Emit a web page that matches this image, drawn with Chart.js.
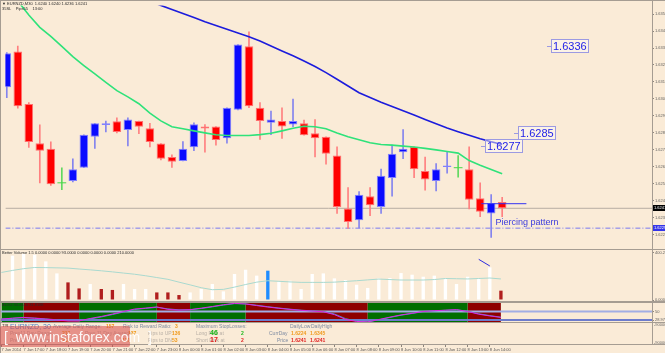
<!DOCTYPE html>
<html>
<head>
<meta charset="utf-8">
<title>EURNZD M30</title>
<script src="https://cdn.jsdelivr.net/npm/chart.js@4.4.1/dist/chart.umd.min.js"></script>
<style>
  html, body { margin: 0; padding: 0; background: #faebd7; }
  #page { position: relative; width: 665px; height: 353px; overflow: hidden; background: #faebd7;
          font-family: "Liberation Sans", Arial, sans-serif; }
  #page canvas { position: absolute; left: 0; }
  .t { position: absolute; white-space: nowrap; line-height: 1; font-size: 5px; color: #7f8ca2; }
  .n { color: #f09a1c; font-weight: bold; }
  .tiny { font-size: 4px; color: #2a2a2a; }
  .rule { position: absolute; left: 0; width: 665px; height: 1px; background: #a59c92; }
</style>
</head>
<body>
<div id="page">
  <canvas id="main" width="665" height="249" style="top:0"></canvas>
  <canvas id="vol" width="665" height="52" style="top:249px"></canvas>
  <canvas id="ind" width="665" height="22" style="top:301px"></canvas>
  <canvas id="time" width="665" height="10" style="top:343px"></canvas>

  <div class="rule" style="top:0"></div>
  <div class="rule" style="top:249px"></div>
  <div class="rule" style="top:301px;height:2px"></div>
  <div class="rule" style="top:322px"></div>
  <div class="rule" style="top:344px"></div>
  <div style="position:absolute;left:0;top:0;width:1px;height:353px;background:#a59c92"></div>
  <div style="position:absolute;left:652px;top:0;width:1px;height:345px;background:#a59c92"></div>

  <!-- header texts -->
  <div class="t tiny" style="left:2px;top:2px">&#9660; EURNZD,M30&nbsp; 1.6240 1.6240 1.6236 1.6241</div>
  <div class="t tiny" style="left:2px;top:7px">35SL&nbsp;&nbsp;&nbsp; Pips55&nbsp;&nbsp;&nbsp; 13:00</div>
  <div class="t tiny" style="left:2px;top:251px">Better Volume 1.5 0.0000 0.0000 93.0000 0.0000 0.0000 0.0000 210.0000</div>
  <div class="t tiny" style="left:2px;top:303px">ADX2 33.4415 31.8188</div>

  <!-- info panel -->
  <div class="t tiny" style="left:2px;top:324px">T!R</div>
  <div class="t" style="left:10px;top:323px;font-size:7px;color:#4f7fc4">EURNZD, 30</div>
  <div class="t" style="left:53px;top:324px">Average Daily Range:</div>
  <div class="t n" style="left:106px;top:324px">157</div>
  <div class="t" style="left:123px;top:324px">Risk to Reward Ratio:</div>
  <div class="t n" style="left:175px;top:324px">3</div>
  <div class="t" style="left:196px;top:324px">Maximum StopLosses:</div>
  <div class="t" style="left:290px;top:324px">DailyLow</div>
  <div class="t" style="left:311px;top:324px">DailyHigh</div>

  <div class="t" style="left:10px;top:331px;color:#b9b0a6">Prev11 Day Range:</div>
  <div class="t n" style="left:62px;top:331px">213</div>
  <div class="t" style="left:85px;top:331px;color:#b9b0a6">Prev 11 Day Average:</div>
  <div class="t n" style="left:128px;top:331px">137</div>
  <div class="t" style="left:148px;top:331px;color:#b9b0a6">Pips to UP:</div>
  <div class="t n" style="left:172px;top:331px">136</div>
  <div class="t" style="left:196px;top:331px;color:#b9b0a6">Long Risk at</div>
  <div class="t" style="left:210px;top:329px;font-size:7px;font-weight:bold;color:#19b819">46</div>
  <div class="t" style="left:241px;top:331px;font-weight:bold;color:#19b819">2</div>
  <div class="t" style="left:269px;top:331px">CurrDay</div>
  <div class="t n" style="left:291px;top:331px">1.6224</div>
  <div class="t n" style="left:310px;top:331px">1.6345</div>

  <div class="t" style="left:10px;top:338px;color:#b9b0a6">Prev22 Day Range:</div>
  <div class="t n" style="left:62px;top:338px">218</div>
  <div class="t n" style="left:122px;top:338px">130</div>
  <div class="t" style="left:148px;top:338px;color:#b9b0a6">Pips to DN:</div>
  <div class="t n" style="left:172px;top:338px">53</div>
  <div class="t" style="left:196px;top:338px;color:#b9b0a6">Short Risk at</div>
  <div class="t" style="left:210px;top:336px;font-size:7px;font-weight:bold;color:#e02020">17</div>
  <div class="t" style="left:241px;top:338px;font-weight:bold;color:#e02020">2</div>
  <div class="t" style="left:277px;top:338px">Price</div>
  <div class="t" style="left:291px;top:338px;font-weight:bold;color:#e02020">1.6241</div>
  <div class="t" style="left:310px;top:338px;font-weight:bold;color:#e02020">1.6241</div>

  <div class="t tiny" style="left:654px;top:323px;color:#6b6b6b">-900000</div>
  <div class="t tiny" style="left:654px;top:341px;color:#6b6b6b">-900000</div>

  <!-- watermark -->
  <div style="position:absolute;left:0;top:326px;width:130px;height:21px;background:rgba(214,72,72,0.55);border-radius:2px"></div>
  <div class="t" style="left:4px;top:330px;font-size:14px;color:rgba(255,255,255,0.92)">[&nbsp; www.instaforex.com &nbsp;]</div>
</div>

<script>
// ---- values (EURNZD, M30) ----
const timeTicks = ['7 Jun 2014', '7 Jun 17:00', '7 Jun 18:00', '7 Jun 19:00', '7 Jun 20:00', '7 Jun 21:00',
  '7 Jun 22:00', '7 Jun 23:00', '8 Jun 00:00', '8 Jun 01:00', '8 Jun 02:00', '8 Jun 03:00', '8 Jun 04:00',
  '8 Jun 05:00', '8 Jun 06:00', '8 Jun 07:00', '8 Jun 08:00', '8 Jun 09:00', '8 Jun 10:00', '8 Jun 11:00',
  '8 Jun 12:00', '8 Jun 13:00', '8 Jun 14:00'];
const timeTickAt = [0, 2, 4, 6, 8, 10, 12, 14, 16, 18, 20, 22, 24, 26, 28, 30, 32, 34, 36, 38, 40, 42, 44];

const priceTicks = [1.6355, 1.6345, 1.6335, 1.6325, 1.6315, 1.6305, 1.6295, 1.6285, 1.6275, 1.6265, 1.6255, 1.6245, 1.6235, 1.6225];

const opens  = [1.63119, 1.63329, 1.63020, 1.62789, 1.62757, 1.62556, 1.62566, 1.62645, 1.62827, 1.62897,
  1.62918, 1.62867, 1.62920, 1.62878, 1.62787, 1.62708, 1.62685, 1.62766, 1.62887, 1.62887,
  1.62819, 1.62986, 1.63361, 1.62998, 1.62910, 1.62920, 1.62899, 1.62907, 1.62848, 1.62827,
  1.62717, 1.62405, 1.62336, 1.62477, 1.62414, 1.62585, 1.62736, 1.62768, 1.62626, 1.62566,
  1.62649, 1.62645, 1.62636, 1.62465, 1.62376, 1.62443];
const highs  = [1.63323, 1.63361, 1.63029, 1.62897, 1.62797, 1.62645, 1.62698, 1.62839, 1.62907, 1.62920,
  1.62939, 1.62939, 1.62920, 1.62907, 1.62787, 1.62721, 1.62799, 1.62910, 1.62899, 1.62887,
  1.62998, 1.63370, 1.63446, 1.63029, 1.62978, 1.62998, 1.63049, 1.62925, 1.62929, 1.62827,
  1.62768, 1.62528, 1.62505, 1.62528, 1.62637, 1.62778, 1.62869, 1.62768, 1.62708, 1.62670,
  1.62736, 1.62717, 1.62768, 1.62556, 1.62486, 1.62471];
const lows   = [1.63058, 1.62995, 1.62765, 1.62556, 1.62540, 1.62515, 1.62562, 1.62645, 1.62759, 1.62856,
  1.62850, 1.62774, 1.62846, 1.62768, 1.62691, 1.62647, 1.62685, 1.62745, 1.62736, 1.62778,
  1.62789, 1.62986, 1.62999, 1.62812, 1.62840, 1.62818, 1.62887, 1.62836, 1.62708, 1.62666,
  1.62376, 1.62288, 1.62291, 1.62363, 1.62376, 1.62477, 1.62698, 1.62586, 1.62512, 1.62509,
  1.62613, 1.62589, 1.62403, 1.62357, 1.62234, 1.62357];
const closes = [1.63319, 1.63007, 1.62797, 1.62745, 1.62547, 1.62556, 1.62636, 1.62839, 1.62907, 1.62907,
  1.62856, 1.62929, 1.62886, 1.62797, 1.62698, 1.62680, 1.62757, 1.62901, 1.62876, 1.62808,
  1.62998, 1.63370, 1.63007, 1.62920, 1.62929, 1.62887, 1.62920, 1.62836, 1.62818, 1.62727,
  1.62414, 1.62325, 1.62486, 1.62424, 1.62598, 1.62727, 1.62757, 1.62636, 1.62575, 1.62636,
  1.62658, 1.62645, 1.62456, 1.62386, 1.62437, 1.62406];

// moving averages (green fast, blue slow)
const maFast = [1.63709, 1.63627, 1.63545, 1.63472, 1.63419, 1.63360, 1.63299, 1.63247, 1.63197, 1.63148,
  1.63099, 1.63062, 1.63022, 1.62966, 1.62921, 1.62886, 1.62874, 1.62862, 1.62850, 1.62839,
  1.62835, 1.62835, 1.62835, 1.62840, 1.62848, 1.62862, 1.62877, 1.62889, 1.62886, 1.62875,
  1.62850, 1.62827, 1.62810, 1.62792, 1.62782, 1.62778, 1.62772, 1.62767, 1.62759, 1.62750,
  1.62740, 1.62731, 1.62687, 1.62660, 1.62635, 1.62610];
const maSlow = [null, null, null, null, null, null, null, null, null, null,
  null, null, 1.63649, 1.63625, 1.63601, 1.63577, 1.63554, 1.63530, 1.63505, 1.63483,
  1.63461, 1.63439, 1.63417, 1.63391, 1.63362, 1.63333, 1.63304, 1.63273, 1.63241, 1.63205,
  1.63166, 1.63126, 1.63087, 1.63059, 1.63031, 1.63005, 1.62980, 1.62955, 1.62929, 1.62904,
  1.62879, 1.62857, 1.62836, 1.62816, 1.62798, 1.62782];

const supportLevel = 1.62289;
const pierceLevel = 1.62433;
const pierceFrom = 43.1, pierceTo = 47.2;
const levelTags = [1.6336, 1.6285, 1.6277];

// Better Volume
const volumes = [null, 375, 389, 383, 327, 225, 149, 98, 135, 93, 85, 135, 93, 93, 64, 64, 42, 64, 93, 135,
  73, 220, 256, 206, 248, 157, 163, 93, 220, 225, 183, 169, 129, 102, 183, 186, 228, 214, 197, 206,
  186, 135, 197, 186, 276, 79];
const volKinds = ['n', 'n', 'n', 'n', 'n', 'n', 'r', 'r', 'n', 'r', 'r', 'n', 'n', 'n', 'r', 'r', 'r', 'n', 'n', 'n',
  'n', 'n', 'n', 'n', 'b', 'n', 'n', 'n', 'n', 'n', 'n', 'n', 'n', 'n', 'n', 'n', 'n', 'n', 'n', 'n',
  'n', 'n', 'n', 'n', 'n', 'r'];
const volAvg = [233, 250, 265, 275, 274, 272, 270, 262, 255, 247, 238, 228, 218, 205, 190, 175, 151, 128, 104, 87,
  90, 109, 131, 151, 163, 158, 153, 149, 149, 149, 151, 157, 163, 170, 177, 173, 169, 169, 169, 173,
  182, 180, 178, 182, 186, 178];
const volTicks = [400.25, 0];
const divergeAt = [43, 44];
const divergeVol = [344, 288];

// ADX panel
const adxMain = [31.2, 33.6, 35.4, 33.3, 31.2, 28.9, 26.9, 26.9, 32.8, 37.7, 43.6, 49.7, 55.9, 58.2, 61.1, 55.1,
  53.3, 54.4, 58.0, 62.1, 66.5, 69.8, 68.3, 64.4, 60.8, 57.7, 54.9, 52.6, 51.0, 49.2, 42.3, 30.7, 25.6, 24.3,
  30.2, 36.1, 41.5, 45.6, 50.0, 51.8, 53.1, 54.4, 50.0, 43.3, 39.0, 35.4];
const adxSignal = [32.0, 33.0, 34.6, 33.8, 31.8, 29.6, 27.6, 27.2, 31.6, 36.5, 42.4, 48.6, 54.8, 57.6, 60.2, 56.3,
  54.0, 54.1, 57.2, 61.2, 65.6, 69.1, 68.6, 65.2, 61.6, 58.4, 55.6, 53.1, 51.4, 49.8, 43.8, 32.4, 26.4, 24.6,
  29.4, 35.3, 40.7, 45.0, 49.5, 51.4, 52.8, 54.0, 50.6, 44.2, 39.8, 36.0];
const trendZones = ['up', 'up', 'dn', 'dn', 'dn', 'dn', 'dn', 'up', 'up', 'up', 'up', 'up', 'up', 'up', 'dn', 'dn',
  'dn', 'up', 'up', 'up', 'up', 'up', 'dn', 'dn', 'dn', 'dn', 'dn', 'dn', 'dn', 'dn', 'dn', 'dn', 'dn', 'up',
  'up', 'up', 'up', 'up', 'up', 'up', 'up', 'up', 'dn', 'dn', 'dn', 'dn'];
const adxLevels = [50, 28.979];
const adxTicks = [73.1407, 50, 28.979];

// ---- chart setup ----
Chart.defaults.font.family = '"Liberation Sans", Arial, sans-serif';
Chart.defaults.animation = false;
Chart.defaults.events = [];
Chart.defaults.plugins.legend.display = false;
Chart.defaults.plugins.tooltip.enabled = false;

const xMin = -0.126, xMax = 58.61;
const hiddenX = { type: 'linear', min: xMin, max: xMax, offset: false, display: false };

function sideAxis(min, max, values, fmt) {
  return {
    position: 'right', min, max, beginAtZero: false,
    afterBuildTicks: s => { s.ticks = values.map(v => ({ value: v })); },
    afterFit: s => { s.width = 13; s.paddingTop = 0; s.paddingBottom = 0; },
    ticks: { font: { size: 4 }, color: '#5e5e5e', padding: 1, autoSkip: false, callback: fmt },
    grid: { drawOnChartArea: false, tickLength: 2, color: '#8d857c' },
    border: { display: false }
  };
}

const pts = arr => arr.map((v, i) => (v === null ? null : { x: i, y: v })).filter(p => p);
const isDoji = i => opens[i] === closes[i];
const candleIdx = opens.map((_, i) => i);
const bodyIdx = candleIdx.filter(i => !isDoji(i));
const dojiIdx = candleIdx.filter(isDoji);

const priceMin = 1.62198, priceMax = 1.63601;
const lastClose = closes[closes.length - 1];

const tagPlugin = {
  id: 'tags',
  afterDatasetsDraw(chart) {
    const { ctx, scales: { x, y } } = chart;
    const tagAt = [49.4, 46.45, 43.4];
    ctx.save();
    ctx.font = '11px "Liberation Sans", Arial, sans-serif';
    ctx.textBaseline = 'middle';
    levelTags.forEach((v, k) => {
      const px = Math.round(x.getPixelForValue(tagAt[k]));
      const py = Math.round(y.getPixelForValue(v));
      const label = v.toFixed(4);
      const w = Math.round(ctx.measureText(label).width) + 3;
      ctx.fillStyle = 'rgba(255,252,248,0.45)';
      ctx.fillRect(px, py - 7, w, 14);
      ctx.strokeStyle = '#9c9ae2';
      ctx.lineWidth = 1;
      ctx.strokeRect(px + 0.5, py - 6.5, w, 13);
      ctx.beginPath(); ctx.moveTo(px - 4, py + 0.5); ctx.lineTo(px, py + 0.5); ctx.stroke();
      ctx.fillStyle = '#2222e8';
      ctx.fillText(label, px + 2, py + 0.5);
    });
    ctx.font = '9px "Liberation Sans", Arial, sans-serif';
    ctx.fillStyle = '#3b3bde';
    ctx.fillText('Piercing pattern', x.getPixelForValue(44.4), y.getPixelForValue(1.6232));
    ctx.restore();
  },
  afterDraw(chart) {
    const { ctx, scales: { y } } = chart;
    ctx.save();
    ctx.font = '4px "Liberation Sans", Arial, sans-serif';
    ctx.textBaseline = 'middle';
    [[lastClose, '#000000'], [supportLevel, '#3434e8']].forEach(([v, c]) => {
      const py = Math.round(y.getPixelForValue(v));
      ctx.fillStyle = c;
      ctx.fillRect(653, py - 3, 12, 6);
      ctx.fillStyle = '#ffffff';
      ctx.fillText((v + 1e-9).toFixed(4), 654, py);
    });
    ctx.restore();
  }
};

const flat = (v) => [{ x: xMin, y: v }, { x: xMax, y: v }];

new Chart(document.getElementById('main'), {
  type: 'bar',
  data: {
    datasets: [
      { type: 'line', data: pts(maFast), borderColor: '#2fe27a', borderWidth: 1.6, pointRadius: 0, order: 1 },
      { type: 'line', data: pts(maSlow), borderColor: '#1c1cdc', borderWidth: 1.6, pointRadius: 0, order: 1 },
      { type: 'line', data: dojiIdx.map(i => ({ x: i, y: closes[i] })), showLine: false,
        pointStyle: 'line', pointRadius: 4.4, pointBorderWidth: 1, pointBorderColor: '#46d846', order: 2 },
      { type: 'bar', data: bodyIdx.map(i => ({ x: i, y: [opens[i], closes[i]] })),
        backgroundColor: bodyIdx.map(i => closes[i] > opens[i] ? '#0a0aff' : '#ff0000'),
        borderColor: bodyIdx.map(i => closes[i] > opens[i] ? '#8080ff' : '#ff7070'),
        borderWidth: 1, borderSkipped: false, grouped: false,
        barPercentage: 0.78, categoryPercentage: 1, order: 3 },
      { type: 'bar', data: candleIdx.map(i => ({ x: i, y: [lows[i], highs[i]] })),
        backgroundColor: candleIdx.map(i => isDoji(i) ? '#60d860' : closes[i] > opens[i] ? '#8484ee' : '#ff8080'),
        barThickness: 1, grouped: false, order: 4 },
      { type: 'line', data: [{ x: pierceFrom, y: pierceLevel }, { x: pierceTo, y: pierceLevel }],
        borderColor: '#3434f0', borderWidth: 1, pointRadius: 0, order: 2 },
      { type: 'line', data: flat(lastClose), borderColor: '#b7ada2', borderWidth: 1, pointRadius: 0, order: 5 },
      { type: 'line', data: flat(supportLevel), borderColor: '#7a7af0', borderWidth: 1,
        borderDash: [5, 2, 1, 2], pointRadius: 0, order: 5 }
    ]
  },
  options: {
    responsive: false,
    layout: { padding: { top: 1, bottom: 1, left: 0, right: 0 } },
    scales: {
      x: hiddenX,
      y: sideAxis(priceMin, priceMax, priceTicks, v => v.toFixed(4))
    }
  },
  plugins: [tagPlugin]
});

new Chart(document.getElementById('vol'), {
  type: 'bar',
  data: {
    datasets: [
      { type: 'line', data: pts(volAvg), borderColor: '#a9d9cf', borderWidth: 1, pointRadius: 0, order: 1 },
      { type: 'line', data: divergeAt.map((x, k) => ({ x, y: divergeVol[k] })), borderColor: '#2a2ae0',
        borderWidth: 1, pointRadius: 0, order: 0 },
      { type: 'bar', data: pts(volumes),
        backgroundColor: candleIdx.filter(i => volumes[i] !== null)
          .map(i => ({ n: '#ffffff', r: '#b01e1e', b: '#1e8cff' })[volKinds[i]]),
        barPercentage: 0.3, categoryPercentage: 1, order: 2 }
    ]
  },
  options: {
    responsive: false,
    layout: { padding: { top: 1, bottom: 1, left: 0, right: 0 } },
    scales: {
      x: hiddenX,
      y: sideAxis(0, 423, volTicks, v => (v === 0 ? '0.0000' : String(v)))
    }
  }
});

const adxMin = 21.72, adxMax = 73.14;
function zoneTrace(kind) {
  const out = [];
  trendZones.forEach((z, i) => {
    if (i > 0 && trendZones[i - 1] !== z) {
      out.push({ x: i, y: trendZones[i - 1] === kind ? adxMax : adxMin });
    }
    out.push({ x: i, y: z === kind ? adxMax : adxMin });
  });
  return out;
}

new Chart(document.getElementById('ind'), {
  type: 'line',
  data: {
    datasets: [
      { data: pts(adxMain), borderColor: '#e024e0', borderWidth: 1, pointRadius: 0, order: 1 },
      { data: pts(adxSignal), borderColor: '#3aa0b8', borderWidth: 1, pointRadius: 0, order: 2 },
      { data: flat(adxLevels[0]), borderColor: '#a2aee4', borderWidth: 2, pointRadius: 0, order: 3 },
      { data: flat(adxLevels[1]), borderColor: '#6d7ccc', borderWidth: 2, pointRadius: 0, order: 3 },
      { data: zoneTrace('up'), borderWidth: 0, pointRadius: 0, fill: 'start', backgroundColor: '#006e00', order: 5 },
      { data: zoneTrace('dn'), borderWidth: 0, pointRadius: 0, fill: 'start', backgroundColor: '#8e0000', order: 5 }
    ]
  },
  options: {
    responsive: false,
    layout: { padding: { top: 1, bottom: 0, left: 0, right: 0 } },
    scales: {
      x: hiddenX,
      y: sideAxis(adxMin, adxMax, adxTicks, v => (v === 50 ? '50' : v.toFixed(4)))
    }
  }
});

new Chart(document.getElementById('time'), {
  type: 'line',
  data: { datasets: [] },
  options: {
    responsive: false,
    layout: { padding: 0 },
    scales: {
      x: {
        type: 'linear', min: xMin, max: xMax, offset: false, position: 'bottom',
        afterBuildTicks: s => { s.ticks = timeTickAt.map(v => ({ value: v })); },
        afterFit: s => { s.height = 9; },
        ticks: { font: { size: 4 }, color: '#555555', align: 'start', padding: 0, autoSkip: false,
                 maxRotation: 0, minRotation: 0, callback: (v, k) => timeTicks[k] },
        grid: { drawOnChartArea: false, tickLength: 3, color: '#8d857c' },
        border: { display: false }
      },
      y: {
        position: 'right', min: 0, max: 1,
        afterFit: s => { s.width = 13; },
        ticks: { display: false }, grid: { display: false }, border: { display: false }
      }
    }
  }
});
</script>
</body>
</html>
